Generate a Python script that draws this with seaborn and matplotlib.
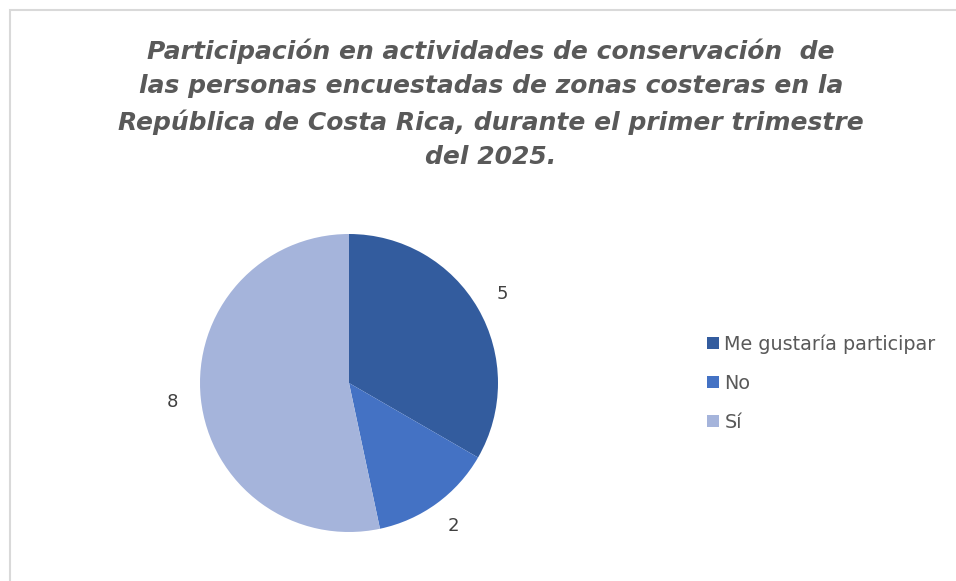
import numpy as np
import matplotlib
matplotlib.use("Agg")
import matplotlib.pyplot as plt
import matplotlib.patches as mpatches
import seaborn as sns

# ======= Data =======
categories = ["Me gustaría participar", "No", "Sí"]
values = [5, 2, 8]
colors = ["#335C9E", "#4472C4", "#A5B4DB"]
title = ("Participación en actividades de conservación  de\n"
         "las personas encuestadas de zonas costeras en la\n"
         "República de Costa Rica, durante el primer trimestre\n"
         "del 2025.")

sns.set_theme(style="white")
plt.rcParams['font.family'] = ['DejaVu Sans']

W, H = 956, 581
fig = plt.figure(figsize=(W / 100, H / 100), dpi=100)
fig.patch.set_facecolor("white")

# chart frame (only the top and left edges show)
frame = mpatches.Rectangle((10 / W, -0.1), 1.2, (H - 10) / H + 0.1,
                           transform=fig.transFigure, fill=False,
                           edgecolor="#d9d9d9", lw=1.5)
fig.patches.append(frame)

fig.text(491 / W, 1 - 104 / H, title, ha="center", va="center",
         fontsize=18, fontweight="bold", fontstyle="italic",
         color="#595959", linespacing=1.54)

# pie axes: centre at (349, 383), radius 149 px
cx, cy, r = 349, 383, 149
ax = fig.add_axes([(cx - r) / W, (H - cy - r) / H, 2 * r / W, 2 * r / H])
wedges, texts = ax.pie(values, colors=colors, startangle=90, counterclock=False,
                       labels=[str(v) for v in values], labeldistance=1.19,
                       textprops=dict(fontsize=13, color="#404040"),
                       wedgeprops=dict(linewidth=0))
for t in texts:
    t.set_ha("center")
    t.set_va("center")
ax.set_xlim(-1, 1)
ax.set_ylim(-1, 1)
ax.set_aspect("equal")

fig.legend(wedges, categories, loc="center left",
           bbox_to_anchor=(690 / W, 1 - 383 / H), frameon=False,
           fontsize=13.8, labelcolor="#595959", handlelength=0.6,
           handleheight=0.6, handletextpad=0.3, labelspacing=1.05)

fig.savefig("out.png", dpi=100)
